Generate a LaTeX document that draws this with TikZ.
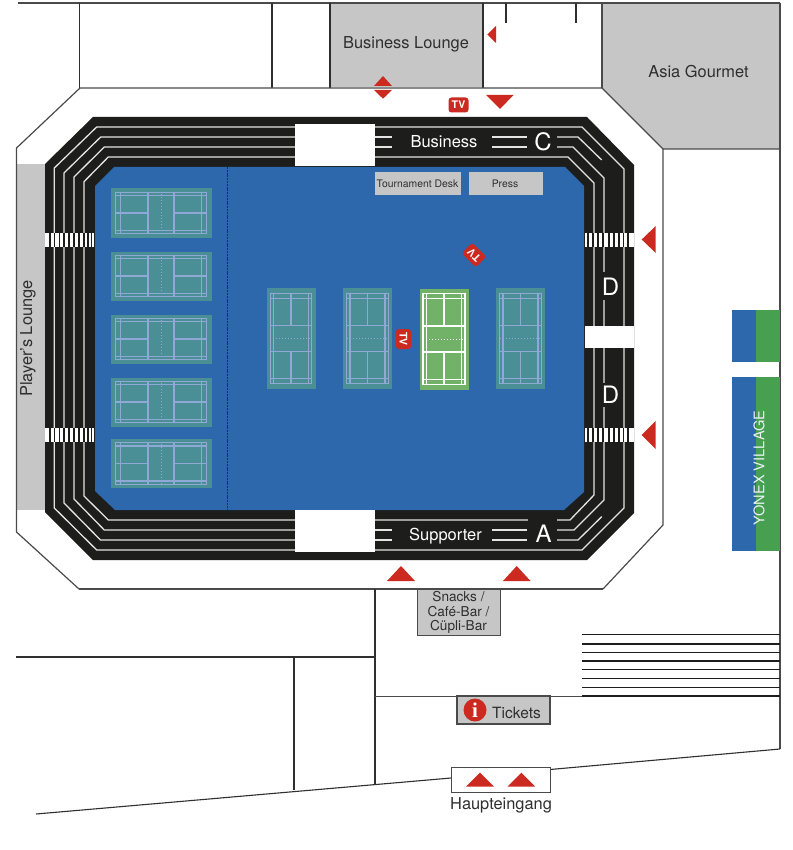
\documentclass[tikz,border=0pt]{standalone}
\usepackage{fontspec}
\setmainfont{TeX Gyre Heros}
\newfontfamily\iconfont{Liberation Serif}
\definecolor{hallgray}{HTML}{C6C6C6}
\definecolor{ink}{HTML}{2F2F2F}
\definecolor{wallc}{HTML}{4A4A4A}
\definecolor{blackc}{HTML}{1D1D1B}
\definecolor{fieldblue}{HTML}{2C68AB}
\definecolor{courtteal}{HTML}{4A8F96}
\definecolor{courtline}{HTML}{8FA8D6}
\definecolor{courtgreen}{HTML}{72B268}
\definecolor{redc}{HTML}{CC2A20}
\definecolor{villagegreen}{HTML}{47A04F}
\definecolor{seat}{HTML}{E4E4E4}
\tikzset{
  wall/.style={draw=wallc,line width=1.2pt},
  thinwall/.style={draw=ink,line width=1.4pt},
  seatline/.style={draw=seat,line width=1.3pt},
  redtri/.style={fill=redc,draw=none},
  lbl/.style={text=ink,inner sep=0pt,font=\fontsize{16.4}{16}\selectfont},
  wlbl/.style={text=white,inner sep=0pt,font=\fontsize{16.5}{16}\selectfont},
  bigl/.style={text=white,inner sep=0pt,font=\fontsize{24}{24}\selectfont},
  smalll/.style={text=ink,inner sep=0pt,font=\fontsize{10.4}{11}\selectfont},
  tvbadge/.style={fill=redc,rounded corners=3pt,text=white,minimum width=20pt,minimum height=15pt,inner sep=0pt,font=\bfseries\fontsize{10.5}{10}\selectfont},
  stripe/.style={draw=blackc,line width=1.1pt}
}
% centre x, centre y, rotation, fill, line colour, line width
\newcommand{\mycourt}[6]{%
  \begin{scope}[shift={(#1,#2)},rotate=#3]
    \fill[#4] (-24.5,-50.5) rectangle (24.5,50.5);
    \begin{scope}[draw=#5,line width=#6]
      \draw (-20.8,-45.3) rectangle (20.8,45.3);
      \draw (-17.5,-45.3) -- (-17.5,45.3);
      \draw (17.5,-45.3) -- (17.5,45.3);
      \draw (-20.8,-40.3) -- (20.8,-40.3);
      \draw (-20.8,40.3) -- (20.8,40.3);
      \draw (-20.8,-13) -- (20.8,-13);
      \draw (-20.8,13) -- (20.8,13);
      \draw (0,-45.3) -- (0,-13);
      \draw (0,13) -- (0,45.3);
      \draw[dotted,line width=1pt] (-20.8,0) -- (20.8,0);
    \end{scope}
  \end{scope}}
\newcommand{\zebra}[3]{% x0, y0, separators
  \fill[white] (#1,#2) rectangle ++(49,14.5);
  \foreach \sx in {#3} {\draw[stripe] (\sx,#2) -- ++(0,14.5);}}
\begin{document}
\begin{tikzpicture}[x=1pt,y=-1pt]
\useasboundingbox (0,0) rectangle (792,850);
\fill[white] (0,0) rectangle (792,850);
% grey rooms
\fill[hallgray] (330,3) rectangle (483,87.5);
\fill[hallgray] (602,3) -- (780,3) -- (780,149) -- (663,149) -- (602,88) -- cycle;
\fill[hallgray] (16.5,164.5) rectangle (45,510);
% walls
\draw[wall] (18,3) -- (780,3);
\draw[thinwall] (79.5,3) -- (79.5,88);
\draw[thinwall] (272,3) -- (272,88);
\draw[thinwall] (330,3) -- (330,88);
\draw[thinwall] (483,3) -- (483,88);
\draw[thinwall] (506,3) -- (506,23);
\draw[thinwall] (576,3) -- (576,23);
\draw[wall] (602,3) -- (602,88);
\draw[wall] (780,3) -- (780,749);
\draw[wall] (603,589) -- (663,525) -- (663,149) -- (780,149);
\draw[wall] (79,589) -- (16.5,532) -- (16.5,148) -- (80,88) -- (602,88) -- (663,149);
\draw[wall] (79,589) -- (603,589);
\draw[thinwall,line width=1.1pt] (16,657) -- (375,657);
\draw[thinwall,line width=1.1pt] (294,657) -- (294,790);
\draw[thinwall,line width=1.1pt] (375,589) -- (375,785);
\draw[wall,line width=0.9pt] (375,696) -- (582,696);
\foreach \ly in {634.7,644,652.5,661,669.7,678.5,687.7,696} \draw[draw=blackc,line width=1.5pt] (582,\ly) -- (780,\ly);
\draw[thinwall,line width=1.1pt] (36,814) -- (451,778);
\draw[thinwall,line width=1.1pt] (550,769.5) -- (780,749);
% arena
\fill[blackc] (93,117) -- (587,117) -- (634,165) -- (634,513) -- (587,560) -- (93,560) -- (45,512) -- (45,164) -- cycle;
\fill[fieldblue] (114,167) -- (565,167) -- (584,186) -- (584,492) -- (564,510) -- (115,510) -- (95,491) -- (95,186) -- cycle;
\draw[draw=ink,line width=0.7pt,dash pattern=on 2pt off 0.8pt] (227,167) -- (227,510);
% seat rows, left
\draw[seatline] (295,127) -- (96.7,127) -- (54.3,168) -- (54.3,508) -- (96.7,550) -- (295,550);
\draw[seatline] (295,137) -- (100.7,137) -- (64,173) -- (64,503) -- (100.5,540) -- (295,540);
\draw[seatline] (295,147) -- (104.3,147) -- (74,177) -- (74,499) -- (104.3,530) -- (295,530);
\draw[seatline] (295,157) -- (108.3,157) -- (84,181.7) -- (84,496) -- (108.3,520) -- (295,520);
% seat rows, right
\draw[seatline] (375,127) -- (582,127) -- (624,169) -- (624,508) -- (582,550) -- (375,550);
\draw[seatline] (375,157) -- (568,157) -- (594,183) -- (594,495) -- (570,520) -- (375,520);
\draw[seatline] (375,137) -- (392,137);
\draw[seatline] (375,147) -- (392,147);
\draw[seatline] (492,137) -- (527,137);
\draw[seatline] (492,147) -- (527,147);
\draw[seatline] (557,137) -- (578,137) -- (601.7,160);
\draw[seatline] (557,147) -- (573,147) -- (604,178) -- (604,500) -- (574,530) -- (557,530);
\draw[seatline] (375,530) -- (392,530);
\draw[seatline] (375,540) -- (392,540);
\draw[seatline] (492,530) -- (527,530);
\draw[seatline] (492,540) -- (527,540);
\draw[seatline] (557,540) -- (578,540) -- (601.7,516.7);
% label plates
\fill[blackc] (528,519) rectangle (557,546);
\fill[blackc] (596,272) rectangle (622,300);
\fill[blackc] (596,383) rectangle (622,407);
% white blocks
\fill[white] (295,124) rectangle (375,166.5);
\fill[white] (295,510) rectangle (375,551.5);
\fill[white] (584.5,326) rectangle (633.5,348);
% crossings
\zebra{45}{232.5}{50,54.5,59.5,64,69,74,79,84,88,91.5}
\zebra{45}{427.5}{50,54.5,59.5,64,69,74,79,84,88,91.5}
\zebra{584.5}{232.5}{588,593,598,603,609,614,619,623.5,628}
\zebra{584.5}{427.5}{588,593,598,603,609,614,619,623.5,628}
% courts
\foreach \cy in {213,276,339,402,463.5} {\mycourt{161}{\cy}{90}{courtteal}{courtline}{1.1pt}}
\mycourt{291}{338.5}{0}{courtteal}{courtline}{1.1pt}
\mycourt{367.5}{338.5}{0}{courtteal}{courtline}{1.1pt}
\mycourt{520.5}{338.5}{0}{courtteal}{courtline}{1.1pt}
\mycourt{444}{339}{0}{courtgreen}{white}{1.5pt}
% grey boxes
\fill[hallgray] (375,172) rectangle (461,195.3);
\fill[hallgray] (469,172) rectangle (543,195.3);
\filldraw[fill=hallgray,draw=wallc,line width=1pt] (417.5,589) rectangle (500,635);
\filldraw[fill=hallgray,draw=wallc,line width=1.2pt] (457,696) rectangle (550,724);
\filldraw[fill=white,draw=wallc,line width=1pt] (451,767) rectangle (550,792);
% village
\fill[fieldblue] (732,309.5) rectangle (755.5,362);
\fill[villagegreen] (755.5,309.5) rectangle (780,362);
\fill[fieldblue] (732,377) rectangle (756,551);
\fill[villagegreen] (756,377) rectangle (780,551);
% red markers
\fill[redtri] (487.3,34.5) -- (496,26) -- (496,43) -- cycle;
\fill[redtri] (383,76) -- (392,86) -- (374,86) -- cycle;
\fill[redtri] (383,98.7) -- (392,90) -- (374,90) -- cycle;
\fill[redtri] (486,95) -- (513.5,95) -- (500,109) -- cycle;
\fill[redtri] (641.7,239.5) -- (655.7,226) -- (655.7,253) -- cycle;
\fill[redtri] (641.7,435) -- (655.7,421) -- (655.7,449) -- cycle;
\fill[redtri] (401,566) -- (415,581) -- (387,581) -- cycle;
\fill[redtri] (516.7,566) -- (530.5,581) -- (503,581) -- cycle;
\fill[redtri] (480,772.7) -- (494,786.7) -- (466,786.7) -- cycle;
\fill[redtri] (521.3,772.7) -- (535.3,786.7) -- (507.3,786.7) -- cycle;
\node[tvbadge] (tvtop) at (458.5,105) {TV};
\node[tvbadge,rotate=-90] (tvmid) at (403.5,339) {TV};
\node[tvbadge,rotate=135] (tvdiag) at (474,255) {TV};
% labels
\node[lbl] (lounge) at (406,44) {Business Lounge};
\node[lbl] (asia) at (698.5,71.5) {Asia Gourmet};
\node[lbl,rotate=90] (players) at (28,338.5) {Player's Lounge};
\node[wlbl] (business) at (444,142) {Business};
\node[wlbl] (supporter) at (445.5,536) {Supporter};
\node[bigl] (c) at (543,142) {C};
\node[bigl] (a) at (543.5,534) {A};
\node[bigl] (d1) at (610.5,286.5) {D};
\node[bigl] (d2) at (610.5,394.5) {D};
\node[smalll] (desk) at (417.5,183.5) {Tournament Desk};
\node[smalll] (press) at (505,183.5) {Press};
\node[text=ink,inner sep=0pt,align=center,font=\fontsize{13.6}{14.6}\selectfont] (snacks) at (458.5,612.5) {Snacks /\\Café-Bar /\\Cüpli-Bar};
\node[lbl,font=\fontsize{15.5}{16}\selectfont] (tickets) at (516.5,712.5) {Tickets};
\node[circle,fill=redc,minimum size=23pt,inner sep=0pt,text=white,font=\iconfont\bfseries\fontsize{21}{21}\selectfont] (info) at (475,710) {i};
\node[lbl] (main) at (501,805) {Haupteingang};
\node[rotate=90,text=white!90!fieldblue,inner sep=0pt,font=\fontsize{14.6}{14}\selectfont] (yonex) at (759,468) {YONEX VILLAGE};
\end{tikzpicture}
\end{document}
